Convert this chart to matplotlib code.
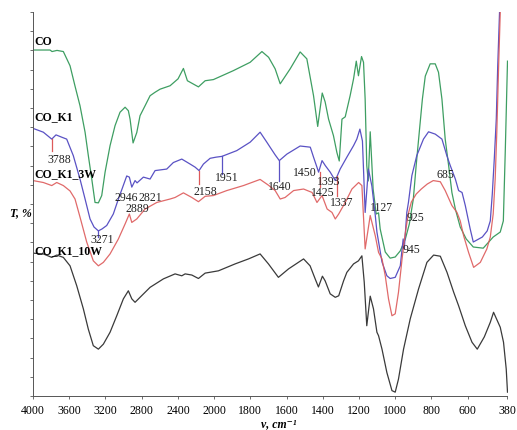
import numpy as np
import matplotlib
matplotlib.use("Agg")
import matplotlib.pyplot as plt

# FTIR spectra, wavenumber (cm-1) vs transmittance (%), curves offset vertically
co_wn = [4000, 3886, 3812, 3790, 3735, 3665, 3591, 3536, 3481, 3425, 3389, 3351, 3315, 3278, 3241,
         3204, 3149, 3094, 3039, 2983, 2947, 2928, 2895, 2854, 2818, 2762, 2707, 2652, 2597, 2486,
         2398, 2339, 2295, 2173, 2099, 2008, 1895, 1801, 1736, 1699, 1663, 1635, 1580, 1525, 1488,
         1451, 1428, 1403, 1387, 1368, 1341, 1322, 1309, 1294, 1276, 1249, 1230, 1215, 1203, 1186,
         1175, 1166, 1157, 1149, 1138, 1122, 1105, 1092, 1083, 1055, 1028, 1000, 972, 944, 922,
         900, 884, 867, 850, 834, 807, 779, 761, 742, 724, 705, 687, 668, 641, 608,
         569, 514, 459, 420, 403, 392, 380]
co_t = [90.1, 90.1, 90.1, 89.7, 90.0, 89.7, 86.0, 80.7, 75.6, 68.7, 62.6, 56.5, 50.4, 50.3, 52.2,
        58.3, 65.2, 70.4, 73.9, 75.2, 74.3, 72.1, 65.9, 68.6, 73.0, 75.6, 78.2, 79.1, 79.9, 80.8,
        82.6, 85.3, 82.1, 80.5, 82.1, 82.4, 84.7, 86.9, 89.7, 88.2, 85.2, 81.3, 85.2, 89.6, 87.8,
        78.2, 70.2, 78.9, 76.6, 72.1, 67.8, 63.4, 61.2, 72.1, 72.7, 78.2, 82.6, 87.2, 83.4, 88.4,
        86.9, 77.3, 60.0, 56.0, 68.8, 53.9, 47.4, 47.7, 43.5, 37.5, 35.9, 36.2, 37.8, 40.9, 44.8,
        51.3, 60.2, 68.8, 77.3, 83.3, 86.5, 86.5, 84.3, 77.3, 66.9, 60.0, 53.0, 48.7, 44.0, 40.9,
        38.8, 38.5, 41.4, 42.7, 45.6, 64.3, 87.2]

k1_wn = [4000, 3886, 3793, 3746, 3683, 3628, 3555, 3481, 3425, 3370, 3326, 3278, 3238, 3186, 3113,
         3057, 3017, 2965, 2936, 2909, 2873, 2851, 2781, 2707, 2652, 2523, 2450, 2357, 2265, 2210,
         2166, 2118, 2044, 1989, 1957, 1875, 1801, 1746, 1709, 1691, 1663, 1640, 1598, 1525, 1469,
         1451, 1423, 1404, 1386, 1359, 1331, 1304, 1267, 1230, 1212, 1195, 1181, 1166, 1148, 1129,
         1110, 1101, 1073, 1046, 1028, 1000, 972, 956, 950, 936, 927, 908, 881, 844, 816,
         779, 742, 715, 696, 668, 650, 631, 613, 586, 569, 519, 492, 475, 464, 453,
         442, 434, 424]
k1_t = [69.7, 68.7, 66.9, 68.0, 67.4, 66.9, 62.6, 56.5, 51.3, 46.1, 44.0, 43.0, 43.5, 44.4, 47.4,
        51.3, 53.9, 57.3, 57.0, 54.4, 56.1, 55.5, 57.0, 56.5, 58.7, 59.1, 60.8, 61.7, 60.4, 59.6,
        58.7, 60.4, 61.9, 62.2, 62.4, 63.9, 66.1, 68.7, 66.1, 64.8, 62.8, 61.3, 63.0, 65.1, 64.8,
        62.2, 58.3, 61.3, 60.0, 58.3, 56.1, 59.1, 62.2, 65.2, 66.9, 69.5, 66.4, 47.8, 59.1, 54.7,
        47.0, 42.7, 34.9, 31.3, 30.6, 30.9, 33.9, 40.9, 38.3, 47.8, 50.4, 57.4, 62.6, 66.9, 68.8,
        68.2, 66.9, 62.6, 60.0, 56.5, 53.5, 53.0, 49.6, 43.5, 40.1, 41.4, 43.0, 45.6, 52.6, 61.7,
        72.1, 85.9, 99.9]

k3w_wn = [4000, 3886, 3793, 3738, 3665, 3591, 3536, 3481, 3407, 3334, 3278, 3223, 3149, 3057, 2983,
          2936, 2909, 2854, 2762, 2633, 2486, 2431, 2339, 2246, 2173, 2099, 2008, 1930, 1838, 1746,
          1700, 1663, 1635, 1608, 1561, 1506, 1459, 1432, 1404, 1376, 1349, 1331, 1312, 1276, 1239,
          1202, 1184, 1166, 1138, 1110, 1092, 1073, 1055, 1037, 1018, 1000, 982, 961, 945, 928,
          911, 884, 856, 823, 790, 751, 724, 687, 659, 641, 622, 595, 567, 530, 494,
          475, 459, 448, 439, 429, 420]
k3w_t = [56.1, 55.6, 54.8, 55.6, 54.8, 53.4, 51.3, 46.6, 40.1, 35.2, 33.9, 34.8, 37.0, 40.9, 44.8,
         47.4, 45.2, 46.1, 48.7, 50.4, 51.3, 51.7, 52.9, 51.7, 50.6, 52.0, 52.2, 53.5, 54.8, 56.4,
         54.9, 53.5, 51.3, 51.7, 53.5, 53.9, 53.0, 50.4, 52.2, 48.7, 47.8, 46.1, 47.4, 50.4, 53.9,
         55.6, 54.8, 38.3, 47.0, 41.7, 37.4, 35.7, 31.3, 25.3, 20.9, 21.4, 27.0, 36.2, 42.2, 47.4,
         50.5, 52.6, 53.9, 55.2, 56.1, 55.8, 53.5, 49.6, 47.8, 45.6, 41.7, 37.4, 33.5, 34.8, 38.3,
         41.4, 47.4, 56.5, 68.8, 85.9, 99.9]

k10w_wn = [4000, 3886, 3793, 3738, 3665, 3591, 3517, 3444, 3389, 3334, 3278, 3223, 3149, 3075, 3002,
           2947, 2909, 2873, 2818, 2707, 2560, 2431, 2357, 2320, 2246, 2173, 2099, 1976, 1884, 1810,
           1746, 1700, 1645, 1589, 1506, 1470, 1442, 1424, 1402, 1387, 1359, 1331, 1312, 1285, 1267,
           1230, 1203, 1184, 1171, 1157, 1138, 1120, 1101, 1092, 1073, 1046, 1018, 1000, 982, 954,
           917, 871, 825, 788, 751, 714, 677, 650, 613, 576, 547, 508, 475, 457, 420,
           402, 387, 380]
k10w_t = [37.2, 37.0, 36.1, 36.7, 36.1, 33.9, 28.7, 22.7, 17.4, 13.1, 12.2, 13.5, 16.6, 20.9, 25.3,
          27.4, 25.3, 24.4, 25.7, 28.3, 30.5, 31.8, 31.3, 31.8, 31.5, 30.6, 32.0, 32.6, 34.4, 35.7,
          37.0, 34.4, 30.9, 33.1, 35.7, 33.9, 30.5, 28.4, 31.2, 30.0, 26.6, 25.7, 26.1, 30.0, 32.2,
          34.4, 35.2, 36.5, 29.6, 18.3, 26.0, 22.7, 16.6, 15.7, 12.2, 6.1, 1.4, 1.0, 4.4, 12.2,
          20.1, 27.9, 34.8, 36.7, 36.4, 32.2, 27.0, 23.5, 18.3, 14.0, 12.2, 15.4, 19.2, 21.8, 17.9,
          14.0, 7.0, 1.0]

series_names = ["CO", "CO_K1", "CO_K1_3W", "CO_K1_10W"]
series_label_t = [92.5, 72.9, 58.0, 38.0]

peak_text = ["3788", "3271", "2946", "2821", "2889", "2158", "1951", "1640", "1450",
             "1425", "1393", "1337", "1127", "925", "945", "685"]
peak_wn = [3710, 3241, 2972, 2707, 2847, 2099, 1930, 1635, 1497, 1401, 1365, 1297, 1073, 889, 908, 724]
peak_t = [61.7, 40.9, 51.7, 51.7, 48.9, 53.5, 57.0, 54.8, 58.4, 53.0, 56.0, 50.6, 49.1, 46.5, 38.3, 57.8]

# short drop lines marking assigned bands
mark_wn = [3793, 3278, 2166, 1957, 1640, 1418, 1320]
mark_top = [66.9, 43.0, 58.7, 62.4, 61.3, 58.3, 57.4]
mark_bottom = [63.9, 41.5, 55.2, 57.8, 56.1, 54.4, 52.2]
mark_color = ["red", "blue", "red", "blue", "blue", "red", "red"]

xticks = [4000, 3600, 3200, 2800, 2400, 2000, 1800, 1600, 1400, 1200, 1000, 800, 600, 380]

colors = {"green": "#3e9e62", "blue": "#5a52c4", "red": "#dd5a5a", "black": "#3a3a3a"}

serif = ["Liberation Serif", "DejaVu Serif"]


# wavenumber axis compressed by 2x above 2000 cm-1
def fwd(w):
    w = np.asarray(w, dtype=float)
    return np.where(w >= 2000, 2000 + (w - 2000) / 2, w)


def inv(g):
    g = np.asarray(g, dtype=float)
    return np.where(g >= 2000, 2000 + 2 * (g - 2000), g)


fig = plt.figure(figsize=(5.17, 4.31), dpi=100)
ax = fig.add_axes([33 / 517, 34 / 431, 474.5 / 517, 384 / 431])
ax.set_xscale("function", functions=(fwd, inv))

lw = 0.9
ax.plot(co_wn, co_t, color=colors["green"], lw=lw)
ax.plot(k10w_wn, k10w_t, color=colors["black"], lw=lw)
ax.plot(k1_wn, k1_t, color=colors["blue"], lw=lw)
ax.plot(k3w_wn, k3w_t, color=colors["red"], lw=lw, alpha=0.9)

for x, y0, y1, c in zip(mark_wn, mark_top, mark_bottom, mark_color):
    ax.plot([x, x], [y0, y1], color=colors[c], lw=0.9)

for name, t in zip(series_names, series_label_t):
    ax.text(3985, t, name, ha="left", va="center", fontsize=8.5,
            fontweight="bold", family=serif)

for s, x, y in zip(peak_text, peak_wn, peak_t):
    ax.text(x, y, s, ha="center", va="center", fontsize=8.5, family=serif, color="#222222")

ax.set_xlim(4000, 380)
ax.set_ylim(0, 100)
ax.set_xticks(xticks)
ax.set_xticklabels([str(v) for v in xticks], family=serif, fontsize=8.5)
ax.set_yticks(np.arange(0, 101, 5))
ax.set_yticklabels([])
ax.tick_params(axis="x", length=2.5, width=0.6, pad=3, color="#555555")
ax.tick_params(axis="y", length=2, width=0.6, color="#555555")
ax.xaxis.get_minor_locator()
ax.minorticks_off()

for side in ("top", "right"):
    ax.spines[side].set_visible(False)
for side in ("left", "bottom"):
    ax.spines[side].set_linewidth(0.7)
    ax.spines[side].set_color("#555555")

ax.set_ylabel("T, %", rotation=0, ha="right", va="center", fontsize=8.5,
              fontweight="bold", fontstyle="italic", family=serif)
ax.yaxis.set_label_coords(-0.002, (397 - 213) / 384)
ax.set_xlabel("\u03bd, cm\u207b\u00b9", fontsize=8.5, fontweight="bold",
              fontstyle="italic", family=serif)
ax.xaxis.set_label_coords(0.518, -0.055)

fig.savefig("out.png", dpi=100)
